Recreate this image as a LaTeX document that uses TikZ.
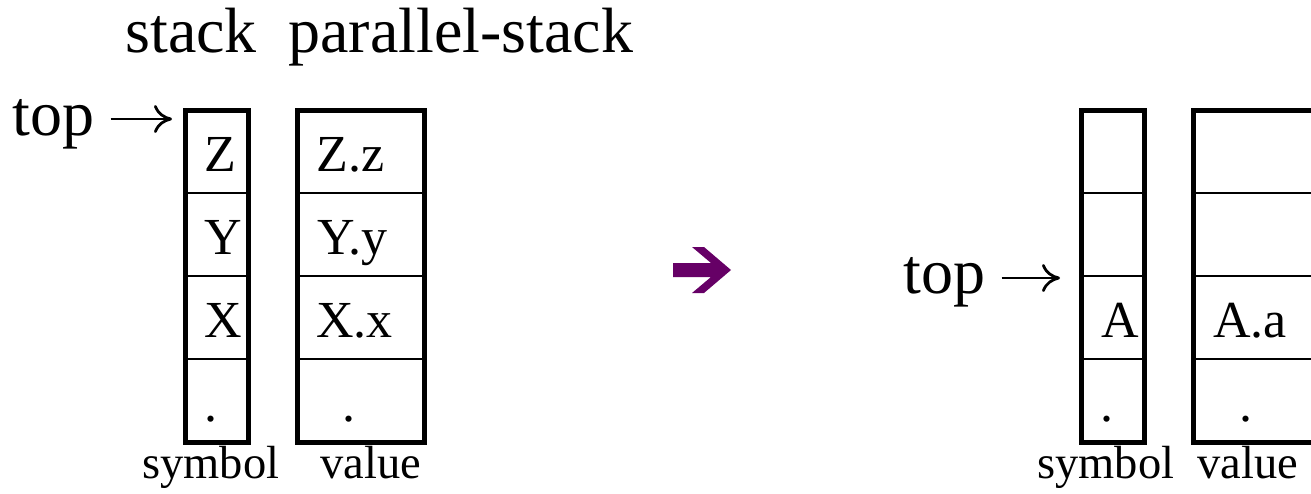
\documentclass[tikz,border=0pt]{standalone}
\usepackage{fontspec}
\setmainfont{Liberation Serif}
\usetikzlibrary{arrows.meta}
\definecolor{plum}{RGB}{102,0,102}

\begin{document}
\begin{tikzpicture}[x=0.5pt,y=-0.5pt,
		frame/.style={line width=2.5pt},
		sep/.style={line width=1pt},
		ptr/.style={line width=1.4pt,-{To[length=9pt,width=14pt]}},
		big/.style={anchor=base west,inner sep=0pt,font=\fontsize{32}{38}\selectfont},
		cell/.style={anchor=base west,inner sep=0pt,font=\fontsize{26}{31}\selectfont},
		lbl/.style={anchor=base west,inner sep=0pt,font=\fontsize{23.25}{28}\selectfont}]
		\useasboundingbox (0,0) rectangle (1311,493);
		% titles
		\node[big] (tstack) at (125,52) {stack};
		\node[big] (tpar) at (288,52) {parallel-stack};
		% left stacks
		\draw[sep] (185.5,193) -- (248.5,193) (185.5,276) -- (248.5,276) (185.5,359) -- (248.5,359);
		\draw[sep] (297.5,193) -- (424.5,193) (297.5,276) -- (424.5,276) (297.5,359) -- (424.5,359);
		\draw[frame] (185.5,110.5) rectangle (248.5,442);
		\draw[frame] (297.5,110.5) rectangle (424.5,442);
		\node[cell] (symZ) at (204,171) {Z};
		\node[cell] (symY) at (204,254) {Y};
		\node[cell] (symX) at (204,337) {X};
		\node[cell] (symdotL) at (204.5,421) {.};
		\node[cell] (valZ) at (316,171) {Z.z};
		\node[cell] (valY) at (317,254) {Y.y};
		\node[cell] (valX) at (316,337) {X.x};
		\node[cell] (valdotL) at (342.5,421) {.};
		\node[lbl] (symL) at (142,478) {symbol};
		\node[lbl] (valL) at (320,478) {value};
		\node[big] (topL) at (12,135) {top};
		\coordinate (tipL) at (172,119);
		\draw[ptr,shorten <=8pt] (topL.east |- tipL) -- (tipL);
		% purple arrow
		\fill[plum] (673,263) -- (711,263) -- (692,247) -- (704,247) -- (731,270)
		-- (704,293) -- (692,293) -- (711,277) -- (673,277) -- cycle;
		% right stacks
		\draw[sep] (1081.5,193) -- (1144.5,193) (1081.5,276) -- (1144.5,276) (1081.5,359) -- (1144.5,359);
		\draw[sep] (1193.5,193) -- (1320.5,193) (1193.5,276) -- (1320.5,276) (1193.5,359) -- (1320.5,359);
		\draw[frame] (1081.5,110.5) rectangle (1144.5,442);
		\draw[frame] (1193.5,110.5) rectangle (1320.5,442);
		\node[cell] (symA) at (1101,337) {A};
		\node[cell] (symdotR) at (1100.5,421) {.};
		\node[cell] (valA) at (1213,337) {A.a};
		\node[cell] (valdotR) at (1239.5,421) {.};
		\node[lbl] (symR) at (1037,478) {symbol};
		\node[lbl] (valR) at (1197,478) {value};
		\node[big] (topR) at (903,293) {top};
		\coordinate (tipR) at (1060,278);
		\draw[ptr,shorten <=8pt] (topR.east |- tipR) -- (tipR);
	\end{tikzpicture}
\end{document}
